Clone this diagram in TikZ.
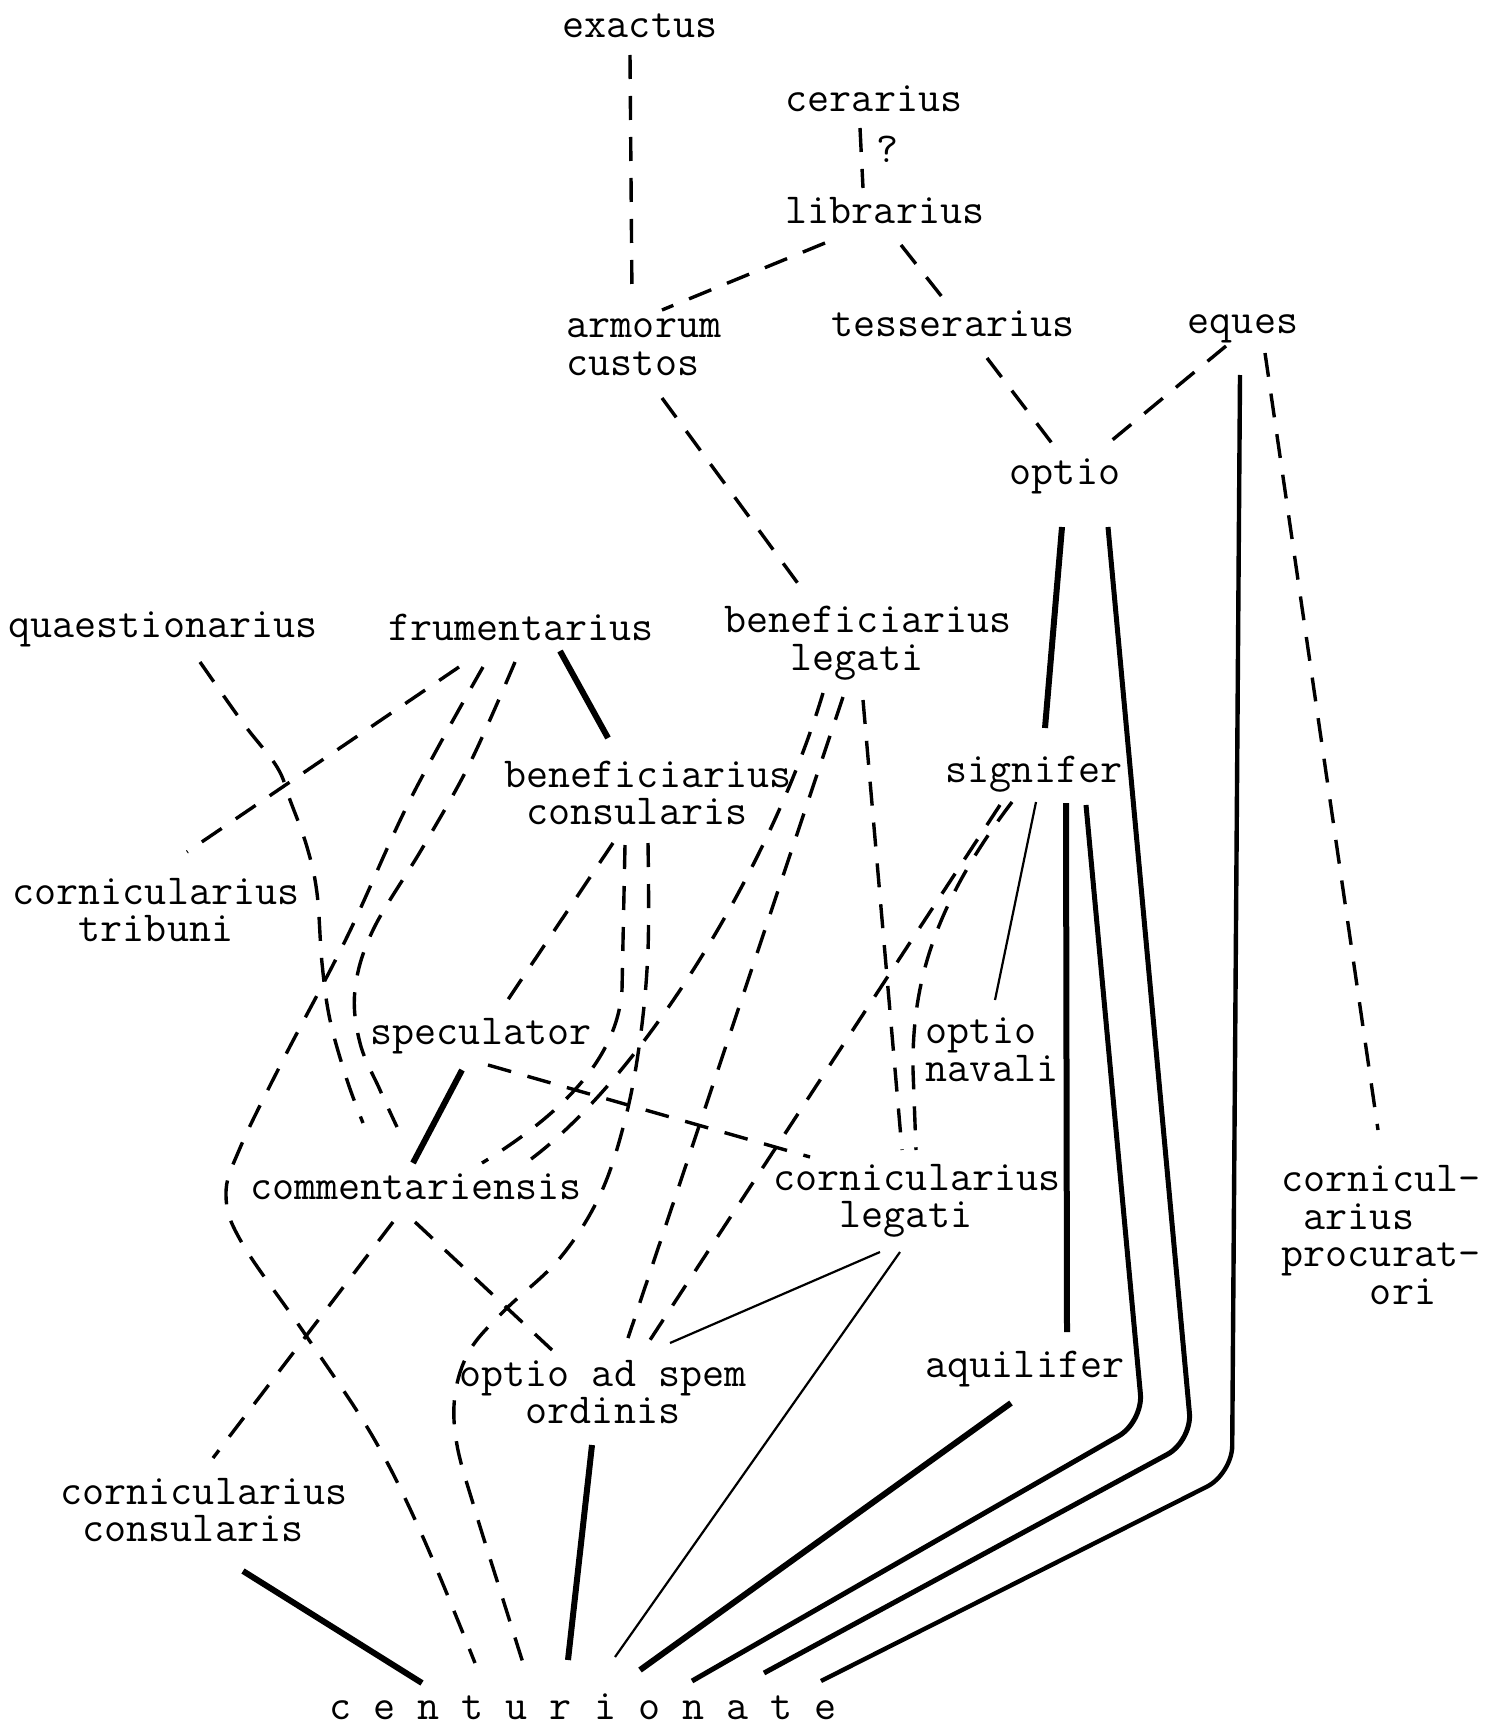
\documentclass[tikz,border=0pt]{standalone}
\usepackage{tikz}
\tikzset{
  lbl/.style={font=\ttfamily\fontsize{21.4pt}{18.8pt}\selectfont, align=left, inner sep=0pt},
  dsh/.style={line width=1.7pt, dash pattern=on 12pt off 8.5pt},
  thk/.style={line width=3pt},
  bent/.style={line width=2.5pt, rounded corners=14pt},
  thn/.style={line width=1.1pt},
}
\begin{document}
\begin{tikzpicture}[x=0.5pt,y=-0.5pt]
\fill[white] (0,0) rectangle (1498,1728);
\useasboundingbox (0,0) rectangle (1498,1728);

% nodes
\node[lbl] (ex) at (640,26) {exactus};
\node[lbl] (cer) at (874,99) {cerarius};
\node[lbl] (qm) at (888,149) {?};
\node[lbl] (lib) at (885,211) {librarius};
\node[lbl] (arm) at (644,347) {armorum\\custos};
\node[lbl] (tes) at (953,324) {tesserarius};
\node[lbl] (eq) at (1243,329) {eques};
\node[lbl] (opt) at (1065,476) {optio};
\node[lbl] (qua) at (163,629) {quaestionarius};
\node[lbl] (fru) at (521,627) {frumentarius};
\node[lbl] (bl) at (868,643) {beneficiarius\\\phantom{xxx}legati};
\node[lbl] (bc) at (648,793) {beneficiarius\\\phantom{x}consularis};
\node[lbl] (sig) at (1034,774) {signifer};
\node[lbl] (ct) at (156,910) {cornicularius\\\phantom{xxx}tribuni};
\node[lbl] (spe) at (481,1036) {speculator};
\node[lbl] (on) at (992,1050) {optio\\navali};
\node[lbl] (com) at (416,1187) {commentariensis};
\node[lbl] (cl) at (917,1201) {cornicularius\\\phantom{xxx}legati};
\node[lbl] (cp) at (1381,1235) {cornicul-\\\phantom{x}arius\\procurat-\\\phantom{xxxx}ori};
\node[lbl] (oas) at (603,1392) {optio ad spem\\\phantom{xxx}ordinis};
\node[lbl] (aq) at (1025,1369) {aquilifer};
\node[lbl] (cc) at (204,1510) {cornicularius\\\phantom{x}consularis};
\node[lbl] (cen) at (583,1707) {c e n t u r i o n a t e};

% top part
\draw[dsh] ([shift={(-10,29)}]ex.center) -- ([shift={(-12,-49)}]arm.center);
\draw[dsh] ([shift={(-14,29)}]cer.center) -- ([shift={(-22,-23)}]lib.center);
\draw[dsh] ([shift={(-60,32)}]lib.center) -- ([shift={(18,-37)}]arm.center);
\draw[dsh] ([shift={(16,34)}]lib.center) -- ([shift={(-7,-22)}]tes.center);
\draw[dsh] ([shift={(34,34)}]tes.center) -- ([shift={(-11,-30)}]opt.center);
\draw[dsh] ([shift={(-17,17)}]eq.center) -- ([shift={(40,-30)}]opt.center);
\draw[dsh] ([shift={(22,24)}]eq.center) -- ([shift={(-3,-105)}]cp.center);
\draw[dsh] ([shift={(18,51)}]arm.center) -- ([shift={(-66,-54)}]bl.center);

% heavy lines on the right
\draw[line width=2.2pt, rounded corners=14pt] ([shift={(-3,46)}]eq.center) -- (1232,1474) -- ([shift={(238,-26)}]cen.center);
\draw[thk] ([shift={(-3,51)}]opt.center) -- ([shift={(11,-46)}]sig.center);
\draw[bent] ([shift={(43,51)}]opt.center) -- (1192,1441) -- ([shift={(181,-34)}]cen.center);
\draw[thk] ([shift={(32,29)}]sig.center) -- ([shift={(42,-37)}]aq.center);
\draw[bent] ([shift={(52,31)}]sig.center) -- (1143,1422) -- ([shift={(109,-26)}]cen.center);
\draw[thn] ([shift={(2,28)}]sig.center) -- ([shift={(3,-50)}]on.center);
\draw[dsh] ([shift={(-34,31)}]sig.center) -- ([shift={(47,-52)}]oas.center);
\draw[dsh] ([shift={(-22,28)}]sig.center) .. controls (930,910) and (912,990) .. (913,1070) -- ([shift={(-1,-51)}]cl.center);

% beneficiarius legati
\draw[dsh] ([shift={(-5,57)}]bl.center) -- ([shift={(-15,-51)}]cl.center);
\draw[dsh] ([shift={(-45,50)}]bl.center) .. controls (770,870) and (640,1080) .. ([shift={(111,-25)}]com.center);
\draw[dsh] ([shift={(-25,54)}]bl.center) -- ([shift={(25,-54)}]oas.center);

% frumentarius
\draw[thk] ([shift={(39,24)}]fru.center) -- ([shift={(-40,-55)}]bc.center);
\draw[dsh] ([shift={(-62,40)}]fru.center) -- ([shift={(31,-58)}]ct.center);
\draw[dsh] plot[smooth, tension=0.6] coordinates {([shift={(-38,40)}]fru.center) (410,800) (347,937) (283,1060) (240,1148) (226,1195) (242,1243) (307,1337) (373,1437) (422,1535) ([shift={(-108,-44)}]cen.center)};
\draw[dsh] plot[smooth, tension=0.6] coordinates {([shift={(-6,35)}]fru.center) (470,763) (423,847) (373,930) (355,990) (360,1043) (380,1090) ([shift={(-19,-60)}]com.center)};

% quaestionarius
\draw[dsh] plot[smooth, tension=0.6] coordinates {([shift={(37,33)}]qua.center) (243,723) (277,767) (290,800) (307,847) (317,893) (322,963) (330,1020) (347,1080) ([shift={(-53,-64)}]com.center)};

% speculator
\draw[thk] ([shift={(-19,34)}]spe.center) -- ([shift={(-3,-24)}]com.center);
\draw[dsh] ([shift={(7,29)}]spe.center) -- ([shift={(-107,-44)}]cl.center);

% beneficiarius consularis
\draw[dsh] ([shift={(-35,50)}]bc.center) -- ([shift={(22,-29)}]spe.center);
\draw[dsh] ([shift={(-23,52)}]bc.center) -- (622,990) .. controls (617,1060) and (560,1115) .. ([shift={(66,-24)}]com.center);
\draw[dsh] plot[smooth, tension=0.6] coordinates {([shift={(0,50)}]bc.center) (648,950) (640,1040) (625,1120) (600,1195) (560,1258) (505,1310) (470,1350) (455,1395) (457,1445) (475,1510) (500,1590) ([shift={(-60,-44)}]cen.center)};

% commentariensis
\draw[dsh] ([shift={(-23,35)}]com.center) -- ([shift={(9,-52)}]cc.center);
\draw[dsh] ([shift={(-1,35)}]com.center) -- ([shift={(-51,-42)}]oas.center);

% cornicularius legati
\draw[thn] ([shift={(-37,51)}]cl.center) -- ([shift={(67,-49)}]oas.center);
\draw[thn] ([shift={(-17,51)}]cl.center) -- ([shift={(32,-50)}]cen.center);

% to centurionate
\draw[thk] ([shift={(-11,53)}]oas.center) -- ([shift={(-15,-47)}]cen.center);
\draw[thk] ([shift={(-14,34)}]aq.center) -- ([shift={(57,-37)}]cen.center);
\draw[thk] ([shift={(39,61)}]cc.center) -- ([shift={(-161,-24)}]cen.center);
\end{tikzpicture}
\end{document}
